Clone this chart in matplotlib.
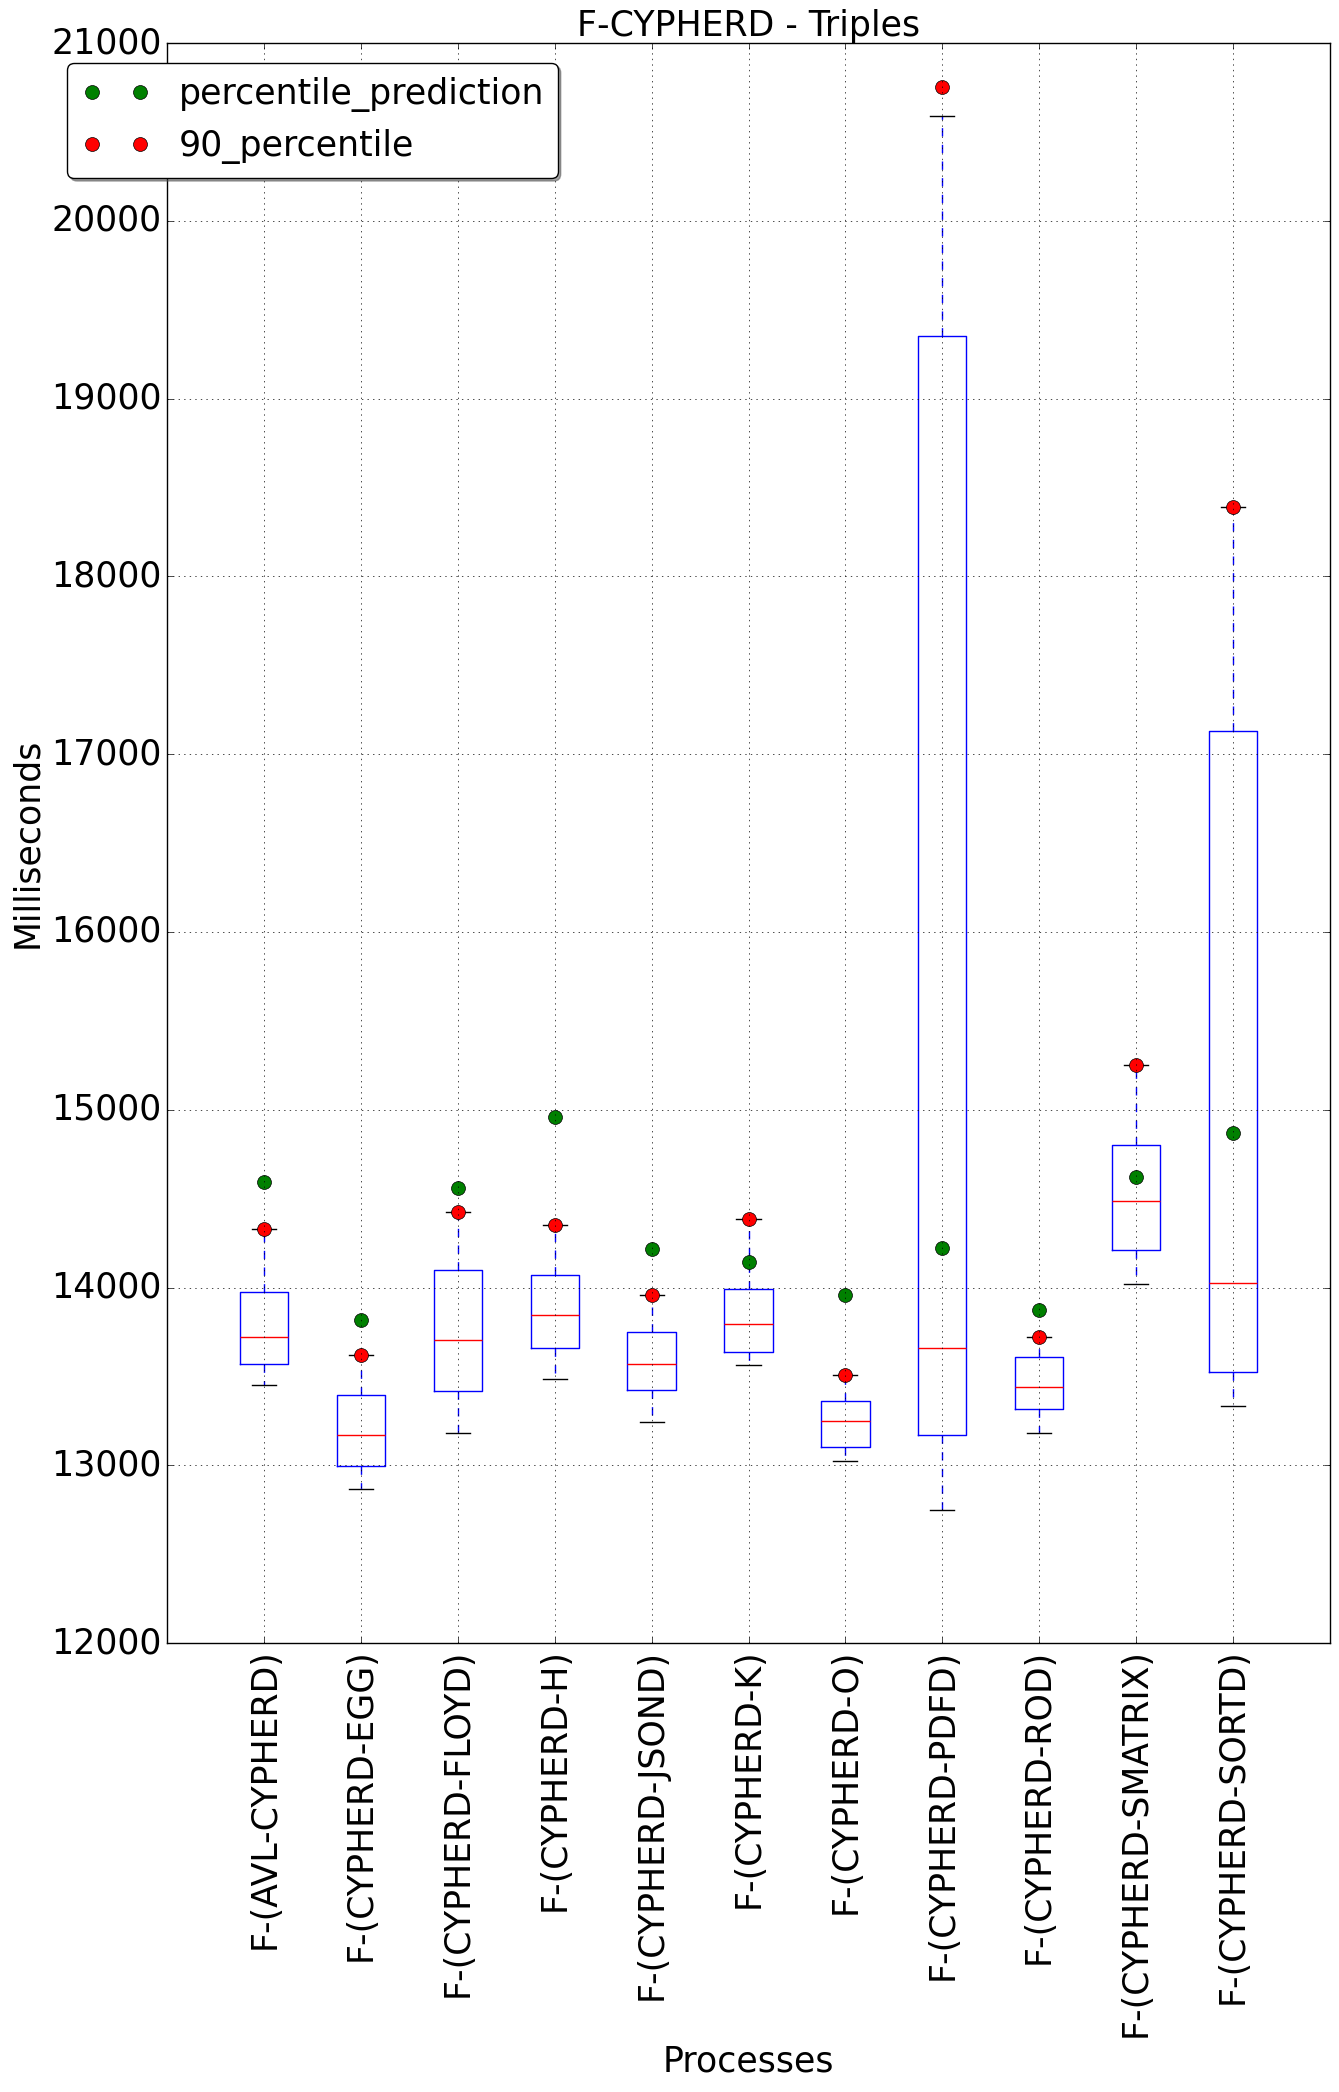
import matplotlib
matplotlib.use("Agg")
import matplotlib.pyplot as plt

# procesos y estadisticas de cada caja
procesos = ["F-(AVL-CYPHERD)", "F-(CYPHERD-EGG)", "F-(CYPHERD-FLOYD)", "F-(CYPHERD-H)",
            "F-(CYPHERD-JSOND)", "F-(CYPHERD-K)", "F-(CYPHERD-O)", "F-(CYPHERD-PDFD)",
            "F-(CYPHERD-ROD)", "F-(CYPHERD-SMATRIX)", "F-(CYPHERD-SORTD)"]
bigote_inf = [13450, 12865, 13180, 13488, 13242, 13563, 13023, 12750, 13180, 14017, 13331]
cuartil_1 = [13572, 12994, 13420, 13662, 13426, 13640, 13105, 13170, 13315, 14209, 13522]
mediana = [13719, 13173, 13704, 13846, 13567, 13797, 13251, 13657, 13438, 14484, 14028]
cuartil_3 = [13972, 13394, 14101, 14068, 13752, 13994, 13364, 19355, 13607, 14802, 17131]
bigote_sup = [14328, 13619, 14422, 14351, 13957, 14383, 13507, 20590, 13719, 15252, 18391]

prediccion = [14593, 13816, 14559, 14957, 14216, 14141, 13957, 14221, 13871, 14623, 14871]
percentil_90 = [14328, 13619, 14422, 14351, 13957, 14383, 13507, 20751, 13719, 15252, 18391]

plt.style.use("classic")
plt.rcParams["figure.facecolor"] = "white"
plt.rcParams["savefig.facecolor"] = "white"

fig = plt.figure(figsize=(13.39, 20.92), dpi=100)
ax = fig.add_axes([0.125, 0.2146, 0.868, 0.7648])

stats = []
for i in range(len(procesos)):
    stats.append({"med": mediana[i], "q1": cuartil_1[i], "q3": cuartil_3[i],
                  "whislo": bigote_inf[i], "whishi": bigote_sup[i], "fliers": []})

posiciones = list(range(1, len(procesos) + 1))
ax.bxp(stats, positions=posiciones, showfliers=False)

ax.plot(posiciones, prediccion, "o", color="g", markeredgecolor="k", markersize=10,
        label="percentile_prediction")
ax.plot(posiciones, percentil_90, "o", color="r", markeredgecolor="k", markersize=10,
        label="90_percentile")

ax.set_xlim(0, 12)
ax.set_ylim(12000, 21000)
ax.set_xticks(posiciones)
ax.set_xticklabels(procesos, rotation=90, fontsize=25)
ax.tick_params(axis="y", labelsize=25)
ax.grid(True)

ax.set_title("F-CYPHERD - Triples", fontsize=25)
ax.set_xlabel("Processes", fontsize=25)
ax.set_ylabel("Milliseconds", fontsize=25)

ax.legend(loc="upper left", bbox_to_anchor=(-0.086, 0.9875), borderaxespad=0,
          numpoints=2, fancybox=True, shadow=True, fontsize=25)

fig.savefig("out.png", dpi=100)
